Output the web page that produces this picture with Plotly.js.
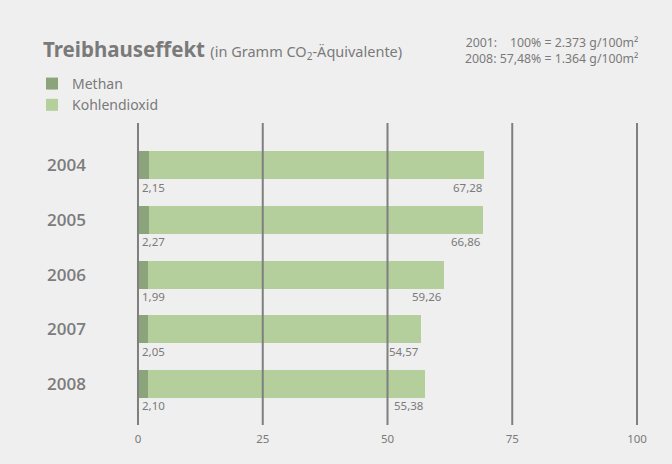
<!DOCTYPE html>
<html><head><meta charset="utf-8">
<script src="https://cdn.plot.ly/plotly-3.0.1.min.js"></script>
<style>html,body{margin:0;padding:0;background:#efefef;}#c{width:672px;height:464px;}</style>
</head><body><div id="c"></div>
<script>
var years = ["2004","2005","2006","2007","2008"];
var methan = [2.15, 2.27, 1.99, 2.05, 2.10];
var co2 = [67.28, 66.86, 59.26, 54.57, 55.38];
var tickVals = [0, 25, 50, 75, 100];
var tickText = ["0","25","50","75","100"];
var fmt = function(v){ return v.toFixed(2).replace(".", ","); };

var gray = "#7f7f7f";
var txt = "#7a7a7a";
var font = "Noto Sans, Open Sans, sans-serif";

var traces = [
  {type:"bar", orientation:"h", name:"Methan", y:years, x:methan, width:0.51,
   marker:{color:"#8ca47b"}, legendgroup:"a", hoverinfo:"skip"},
  {type:"bar", orientation:"h", name:"Kohlendioxid", y:years, x:co2, width:0.51,
   marker:{color:"#b4ce9c"}, legendgroup:"b", hoverinfo:"skip"}
];

var annotations = [];
years.forEach(function(y, i){
  annotations.push({x:0, y:i, xref:"x", yref:"y", text:fmt(methan[i]), showarrow:false,
    xanchor:"left", yanchor:"middle", xshift:2, yshift:-22, font:{size:11.5, color:txt, family:font}});
  annotations.push({x:methan[i]+co2[i], y:i, xref:"x", yref:"y", text:fmt(co2[i]), showarrow:false,
    xanchor:"right", yanchor:"middle", xshift:0, yshift:-22, font:{size:11.5, color:txt, family:font}});
});
annotations.push({xref:"paper", yref:"paper", x:(640-133)/509, y:(425-50)/302, xanchor:"right", yanchor:"middle",
  align:"right", showarrow:false,
  text:"2001:&nbsp;&nbsp;&nbsp; 100% = 2.373 g/100m²<br>2008: 57,48% = 1.364 g/100m²",
  font:{size:12.3, color:txt, family:font}});

var shapes = tickVals.map(function(v){
  return {type:"line", xref:"x", yref:"paper", x0:v, x1:v, y0:0, y1:1, layer:"above",
    line:{color:gray, width:2}};
});

var layout = {
  width:672, height:464,
  paper_bgcolor:"#efefef", plot_bgcolor:"#efefef",
  margin:{l:133, r:30, t:123, b:39},
  barmode:"stack",
  title:{text:"<b>Treibhauseffekt</b> <span style='font-size:14.5px'>(in Gramm CO<sub>2</sub>-Äquivalente)</span>",
    x:43/672, xanchor:"left", y:1-50/464, yanchor:"middle", font:{size:20.5, color:txt, family:font}},
  xaxis:{range:[-1,101], tickvals:tickVals, ticktext:tickText, showgrid:false, zeroline:false,
    showline:false, ticks:"", ticklabelstandoff:5, tickfont:{size:11.5, color:txt, family:font}, fixedrange:true},
  yaxis:{type:"category", categoryorder:"array", categoryarray:years, range:[4.75,-0.77],
    showgrid:false, zeroline:false, showline:false, ticks:"", ticklabelstandoff:46,
    tickfont:{size:17, color:"#7c7c7c", family:"Open Sans, Noto Sans, sans-serif", weight:600}, fixedrange:true},
  showlegend:true,
  legend:{x:(32-133)/509, y:(425-68)/302, xanchor:"left", yanchor:"top", bgcolor:"rgba(0,0,0,0)",
    font:{size:14, color:txt, family:font}, traceorder:"normal", tracegroupgap:8},
  annotations:annotations,
  shapes:shapes
};
Plotly.newPlot("c", traces, layout, {displayModeBar:false, staticPlot:true});
</script></body></html>
